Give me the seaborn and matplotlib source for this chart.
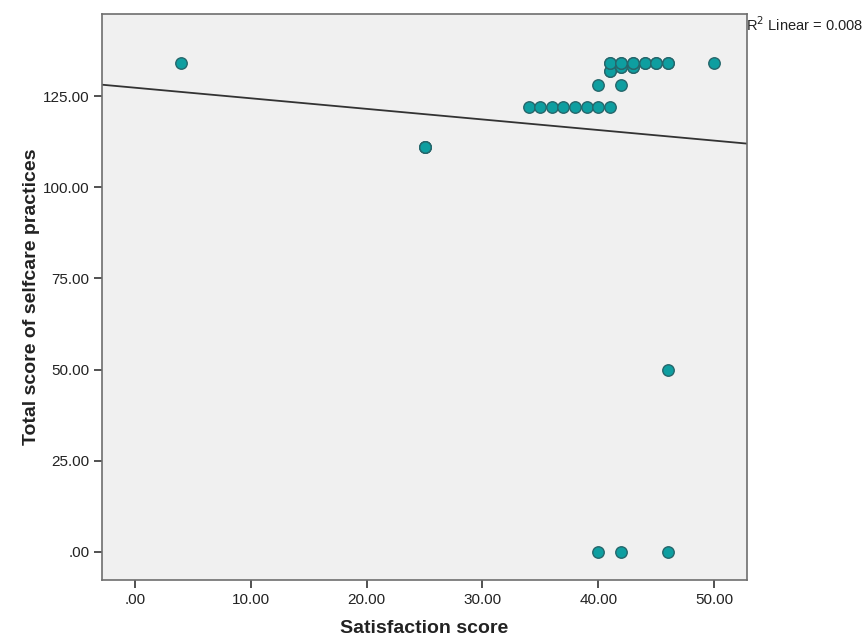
import matplotlib
matplotlib.use('Agg')
import matplotlib.pyplot as plt
import matplotlib.ticker as mticker
import pandas as pd
import seaborn as sns

# Data (overlapping points counted as repeats)
satisfaction = [
    4, 25, 25, 25,
    34, 35, 36, 37, 38, 39, 40, 41,
    40, 42,
    41, 41, 42, 42, 43, 43,
    41, 41, 42, 42, 43, 43, 44, 44, 45, 45, 46, 46,
    50, 46,
    40, 42, 46
]
selfcare = [
    134, 111, 111, 111,
    122, 122, 122, 122, 122, 122, 122, 122,
    128, 128,
    132, 132, 133, 133, 133, 133,
    134, 134, 134, 134, 134, 134, 134, 134, 134, 134, 134, 134,
    134, 50,
    0, 0, 0
]
x_ticks = [0, 10, 20, 30, 40, 50]
y_ticks = [0, 25, 50, 75, 100, 125]

df = pd.DataFrame({'Satisfaction score': satisfaction,
                   'Total score of selfcare practices': selfcare})

sns.set_style('white')
plt.rcParams['font.family'] = ['Liberation Sans', 'DejaVu Sans']

fig = plt.figure(figsize=(8.67, 6.39), dpi=100)
ax = fig.add_axes([0.1177, 0.0923, 0.7439, 0.8857])
ax.set_facecolor('#F0F0F0')
ax.set_xlim(-2.85, 52.85)
ax.set_ylim(-7.7, 147.5)

sns.regplot(
    data=df,
    x='Satisfaction score',
    y='Total score of selfcare practices',
    ci=None,
    truncate=False,
    ax=ax,
    scatter_kws=dict(s=68, color='#0E9EA0', edgecolors='#26666B',
                     linewidths=1, alpha=1, zorder=3),
    line_kws=dict(color='#333333', lw=1.3, zorder=2),
)

ax.set_xlim(-2.85, 52.85)
ax.set_ylim(-7.7, 147.5)
ax.set_xticks(x_ticks)
ax.set_yticks(y_ticks)
fmt = mticker.FuncFormatter(lambda v, p: ('%.2f' % v).lstrip('0'))
ax.xaxis.set_major_formatter(fmt)
ax.yaxis.set_major_formatter(fmt)
ax.tick_params(axis='both', direction='out', length=6, width=1.2,
               color='#333333', labelsize=11, labelcolor='#222222',
               bottom=True, left=True, pad=3)

for sp in ax.spines.values():
    sp.set_color('#6E6E6E')
    sp.set_linewidth(1.2)

ax.set_xlabel('Satisfaction score', fontsize=14, fontweight='bold',
              color='#222222', labelpad=10)
ax.set_ylabel('Total score of selfcare practices', fontsize=14,
              fontweight='bold', color='#222222', labelpad=2)

fig.text(0.861, 0.951, 'R$^2$ Linear = 0.008', fontsize=10.5,
         color='#222222', va='baseline', ha='left')

fig.savefig('out.png', dpi=100)
